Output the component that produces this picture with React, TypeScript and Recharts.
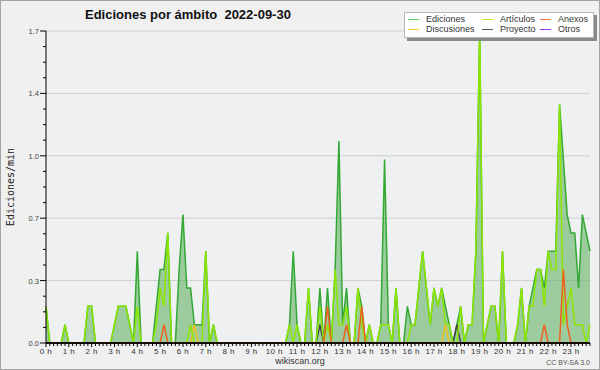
import React from 'react';
import { ComposedChart, Area, Line, XAxis, YAxis, CartesianGrid, ReferenceLine } from 'recharts';

// 10-minute slots, 0..143 (00:00 .. 23:50)
const slotIndex: number[] = Array.from({ length: 144 }, (_, i) => i);

// Edits per minute, one value per 10-minute slot
const ediciones = [
  0.2, 0, 0, 0, 0, 0.1, 0, 0, 0, 0, 0, 0.2,
  0.2, 0, 0, 0, 0, 0, 0.1, 0.2, 0.2, 0.2, 0.1, 0,
  0.5, 0, 0, 0, 0, 0.2, 0.4, 0.4, 0.6, 0, 0, 0.4,
  0.7, 0.3, 0.3, 0.1, 0.1, 0.1, 0.5, 0, 0.1, 0, 0, 0,
  0, 0, 0, 0, 0, 0, 0, 0, 0, 0, 0, 0,
  0, 0, 0, 0, 0.1, 0.5, 0.1, 0, 0, 0.3, 0, 0,
  0.3, 0, 0.3, 0, 0.4, 1.1, 0.1, 0.3, 0, 0, 0.3, 0.2,
  0, 0.1, 0, 0, 0.1, 1.0, 0.1, 0, 0.3, 0, 0, 0.2,
  0.1, 0.1, 0.3, 0.5, 0.3, 0.1, 0.3, 0.2, 0.3, 0.2, 0.1, 0,
  0.1, 0.2, 0, 0.1, 0.1, 0.5, 1.7, 0, 0.1, 0.2, 0.2, 0,
  0.5, 0, 0, 0, 0.1, 0.3, 0, 0.2, 0.3, 0.4, 0.4, 0.3,
  0.5, 0.5, 0.5, 1.3, 1.0, 0.7, 0.6, 0.6, 0.3, 0.7, 0.6, 0.5,
];

const articulos = [
  0.2, 0, 0, 0, 0, 0.1, 0, 0, 0, 0, 0, 0.2,
  0.2, 0, 0, 0, 0, 0, 0.1, 0.2, 0.2, 0.2, 0.1, 0,
  0.2, 0, 0, 0, 0, 0.1, 0.3, 0.2, 0.6, 0, 0, 0,
  0, 0, 0.1, 0, 0, 0, 0.5, 0, 0.1, 0, 0, 0,
  0, 0, 0, 0, 0, 0, 0, 0, 0, 0, 0, 0,
  0, 0, 0, 0, 0.1, 0, 0.1, 0, 0, 0.3, 0, 0,
  0.2, 0, 0.1, 0, 0.4, 0.1, 0.1, 0.2, 0, 0, 0.3, 0.1,
  0, 0.1, 0, 0, 0.1, 0.1, 0.1, 0, 0.3, 0, 0, 0,
  0.1, 0.1, 0.3, 0.5, 0.3, 0.1, 0.3, 0.2, 0.3, 0.1, 0.1, 0,
  0, 0.2, 0, 0.1, 0.1, 0.5, 1.7, 0, 0.1, 0.2, 0.2, 0,
  0.5, 0, 0, 0, 0.1, 0.3, 0, 0.2, 0.2, 0.4, 0.4, 0.2,
  0.5, 0.4, 0.4, 1.3, 0.1, 0.2, 0.3, 0.1, 0.1, 0.1, 0, 0.1,
];

const anexos = [
  0, 0, 0, 0, 0, 0, 0, 0, 0, 0, 0, 0,
  0, 0, 0, 0, 0, 0, 0, 0, 0, 0, 0, 0,
  0, 0, 0, 0, 0, 0, 0, 0.1, 0, 0, 0, 0,
  0, 0, 0, 0, 0, 0, 0, 0, 0, 0, 0, 0,
  0, 0, 0, 0, 0, 0, 0, 0, 0, 0, 0, 0,
  0, 0, 0, 0, 0, 0, 0, 0, 0, 0, 0, 0,
  0, 0, 0.2, 0, 0, 0, 0, 0.1, 0, 0, 0, 0.2,
  0, 0, 0, 0, 0, 0, 0, 0, 0, 0, 0, 0,
  0, 0, 0, 0, 0, 0, 0, 0, 0, 0, 0, 0,
  0, 0, 0, 0, 0, 0, 0, 0, 0, 0, 0, 0,
  0, 0, 0, 0, 0, 0, 0, 0, 0, 0, 0, 0.1,
  0, 0, 0, 0, 0.4, 0.1, 0, 0, 0, 0, 0, 0,
];

const discusiones = [
  0, 0, 0, 0, 0, 0, 0, 0, 0, 0, 0, 0,
  0, 0, 0, 0, 0, 0, 0, 0, 0, 0, 0, 0,
  0, 0, 0, 0, 0, 0, 0, 0, 0, 0, 0, 0,
  0, 0, 0, 0.1, 0, 0, 0, 0, 0, 0, 0, 0,
  0, 0, 0, 0, 0, 0, 0, 0, 0, 0, 0, 0,
  0, 0, 0, 0, 0, 0, 0, 0, 0, 0, 0, 0,
  0, 0, 0, 0, 0, 0, 0, 0, 0, 0, 0, 0,
  0, 0, 0, 0, 0, 0, 0, 0, 0, 0, 0, 0,
  0, 0, 0, 0, 0, 0, 0, 0, 0, 0.1, 0, 0,
  0, 0, 0, 0, 0, 0, 0, 0, 0, 0, 0, 0,
  0, 0, 0, 0, 0, 0, 0, 0, 0, 0, 0, 0,
  0, 0, 0, 0, 0, 0, 0, 0, 0, 0, 0, 0,
];

const proyecto = [
  0, 0, 0, 0, 0, 0, 0, 0, 0, 0, 0, 0,
  0, 0, 0, 0, 0, 0, 0, 0, 0, 0, 0, 0,
  0, 0, 0, 0, 0, 0, 0, 0, 0, 0, 0, 0,
  0, 0, 0, 0, 0, 0, 0, 0, 0, 0, 0, 0,
  0, 0, 0, 0, 0, 0, 0, 0, 0, 0, 0, 0,
  0, 0, 0, 0, 0, 0, 0, 0, 0, 0, 0, 0,
  0.1, 0, 0, 0, 0, 0, 0, 0, 0, 0, 0, 0,
  0, 0, 0, 0, 0, 0, 0, 0, 0, 0, 0, 0,
  0, 0, 0, 0, 0, 0, 0, 0, 0, 0, 0, 0,
  0.1, 0, 0, 0, 0, 0, 0, 0, 0, 0, 0, 0,
  0, 0, 0, 0, 0, 0, 0, 0, 0, 0, 0, 0,
  0, 0, 0, 0, 0, 0, 0, 0, 0, 0, 0, 0,
];

const otros: number[] = slotIndex.map(() => 0);

const hourLabels = [
  '0 h', '1 h', '2 h', '3 h', '4 h', '5 h', '6 h', '7 h', '8 h', '9 h', '10 h', '11 h',
  '12 h', '13 h', '14 h', '15 h', '16 h', '17 h', '18 h', '19 h', '20 h', '21 h', '22 h', '23 h',
];
const yMajorValues = [0, 0.34, 0.68, 1.02, 1.36, 1.7];
const yMajorLabels = ['0.0', '0.3', '0.7', '1.0', '1.4', '1.7'];
const yTicks = [
  0, 0.085, 0.17, 0.255, 0.34, 0.425, 0.51, 0.595, 0.68, 0.765, 0.85,
  0.935, 1.02, 1.105, 1.19, 1.275, 1.36, 1.445, 1.53, 1.615, 1.7,
];

const data = slotIndex.map((i) => ({
  i,
  ed: ediciones[i],
  art: articulos[i],
  anx: anexos[i],
  dis: discusiones[i],
  pro: proyecto[i],
  otr: otros[i],
}));

const legendItems = [
  { name: 'Ediciones', color: '#66cc66' },
  { name: 'Artículos', color: '#bbee22' },
  { name: 'Anexos', color: '#ff7733' },
  { name: 'Discusiones', color: '#ffcc33' },
  { name: 'Proyecto', color: '#555555' },
  { name: 'Otros', color: '#9933ff' },
];

const FONT = '"Liberation Sans", Arial, sans-serif';

const XTick = (props: any) => {
  const { x, y, payload } = props;
  const i = payload.value as number;
  const isHour = i % 6 === 0;
  return (
    <g>
      <line x1={x} x2={x} y1={y} y2={y + (isHour ? 4 : 3)} stroke="#000" strokeWidth={1} />
      {isHour && (
        <text x={x} y={y + 11} textAnchor="middle" fontSize={8} letterSpacing={0.4} fill="#333" fontFamily={FONT}>
          {hourLabels[i / 6]}
        </text>
      )}
    </g>
  );
};

const YTick = (props: any) => {
  const { x, y, index } = props;
  const isMajor = index % 4 === 0;
  return (
    <g>
      <line x1={x - (isMajor ? 6 : 3)} x2={x} y1={y} y2={y} stroke="#000" strokeWidth={1} />
      {isMajor && (
        <text x={x - 7} y={y + 3} textAnchor="end" fontSize={7.5} fill="#444" fontFamily={FONT}>
          {yMajorLabels[index / 4]}
        </text>
      )}
    </g>
  );
};

export default function App() {
  return (
    <div
      style={{
        position: 'absolute',
        left: 0,
        top: 0,
        width: 600,
        height: 370,
        background: '#f0f0f0',
        boxShadow: 'inset 0 0 0 1px #a4a4a4',
        fontFamily: FONT,
        overflow: 'hidden',
      }}
    >
      <div style={{ position: 'absolute', left: 0, top: 0 }}>
        <ComposedChart width={600} height={370} data={data} margin={{ top: 31, right: 10, bottom: 0, left: 0 }}>
          <CartesianGrid
            vertical={false}
            horizontalValues={yMajorValues}
            stroke="#cfcfcf"
            fill="#eff0f2"
          />
          <XAxis
            dataKey="i"
            type="number"
            domain={[0, 143]}
            ticks={slotIndex}
            interval={0}
            height={27}
            tickSize={0}
            tickMargin={0}
            tick={<XTick />}
            axisLine={{ stroke: '#000' }}
            allowDecimals={false}
          />
          <YAxis
            type="number"
            domain={[0, 1.7]}
            ticks={yTicks}
            interval={0}
            width={46}
            tickSize={0}
            tickMargin={0}
            tick={<YTick />}
            axisLine={{ stroke: '#000' }}
          />
          <Area
            type="linear"
            dataKey="ed"
            stroke="#33a833"
            strokeWidth={1.5}
            fill="#4aa84a"
            fillOpacity={0.5}
            dot={false}
            activeDot={false}
            isAnimationActive={false}
          />
          <Line type="linear" dataKey="otr" stroke="#9944ee" strokeWidth={1.5} dot={false} activeDot={false} isAnimationActive={false} />
          <Line type="linear" dataKey="dis" stroke="#f0c020" strokeWidth={1.5} dot={false} activeDot={false} isAnimationActive={false} />
          <Line type="linear" dataKey="pro" stroke="#444444" strokeWidth={1.5} dot={false} activeDot={false} isAnimationActive={false} />
          <Line type="linear" dataKey="art" stroke="#8ce600" strokeWidth={1.5} dot={false} activeDot={false} isAnimationActive={false} />
          <Line type="linear" dataKey="anx" stroke="#f06020" strokeWidth={1.5} dot={false} activeDot={false} isAnimationActive={false} />
          <ReferenceLine y={0} stroke="#000" strokeWidth={1.5} />
        </ComposedChart>
      </div>

      <div
        style={{
          position: 'absolute',
          left: 85,
          top: 7,
          fontSize: 13,
          fontWeight: 'bold',
          color: '#111',
          whiteSpace: 'pre',
          lineHeight: '16px',
        }}
      >
        {'Ediciones por ámbito  2022-09-30'}
      </div>

      <div style={{ position: 'absolute', left: 10, top: 187, width: 0, height: 0 }}>
        <div
          style={{
            position: 'absolute',
            left: 0,
            top: 0,
            transform: 'translate(-50%, -50%) rotate(-90deg)',
            fontFamily: '"DejaVu Sans Mono", monospace',
            fontSize: 10,
            color: '#222',
            whiteSpace: 'nowrap',
          }}
        >
          Ediciones/min
        </div>
      </div>

      <div
        style={{
          position: 'absolute',
          left: 404,
          top: 12,
          width: 188,
          height: 24,
          background: '#fff',
          border: '1px solid #b8b8b8',
          boxShadow: '3px 3px 0 #8a8a8a',
        }}
      >
        {legendItems.map((it, k) => {
          const row = k < 3 ? 0 : 1;
          const colIdx = k % 3;
          const lefts = [3, 77, 135];
          return (
            <div
              key={it.name}
              style={{
                position: 'absolute',
                left: lefts[colIdx],
                top: row === 0 ? 1 : 11,
                height: 11,
                display: 'flex',
                alignItems: 'center',
                fontSize: 9,
                color: '#333',
                whiteSpace: 'nowrap',
                lineHeight: '11px',
              }}
            >
              <span style={{ display: 'inline-block', width: 11, height: 1.5, background: it.color, marginRight: 7 }} />
              {it.name}
            </div>
          );
        })}
      </div>

      <div style={{ position: 'absolute', left: 0, width: 600, top: 356, textAlign: 'center', fontSize: 9, color: '#333', lineHeight: '11px' }}>
        wikiscan.org
      </div>
      <div style={{ position: 'absolute', right: 10, top: 358, fontSize: 7, color: '#555', lineHeight: '9px' }}>
        CC BY-SA 3.0
      </div>
    </div>
  );
}
